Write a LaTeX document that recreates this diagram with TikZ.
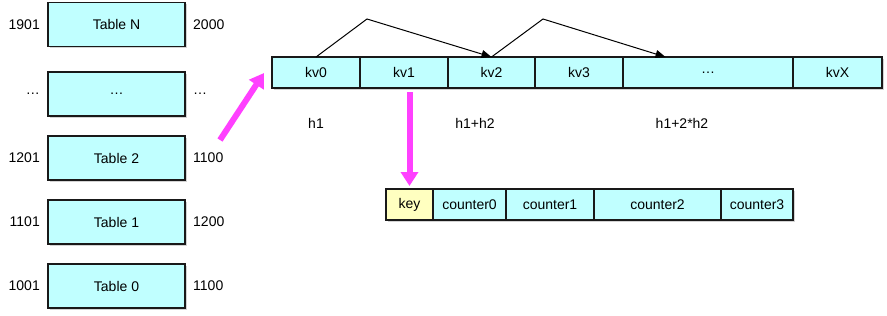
\documentclass[tikz,border=0pt]{standalone}
\usepackage{fontspec}
\setmainfont{Liberation Sans}
\usetikzlibrary{positioning,shadows,arrows.meta,calc}
\definecolor{cellcyan}{HTML}{C0FFFF}
\definecolor{cellyellow}{HTML}{FFFFC0}
\definecolor{ptrpink}{HTML}{FF40FF}
\tikzset{
  cell/.style={draw=black!90, line width=1.3pt, fill=cellcyan, minimum height=31pt,
    inner sep=0pt, outer sep=0pt,
    drop shadow={shadow xshift=1.5pt, shadow yshift=-1.5pt, opacity=0.35}},
  tbl/.style={cell, minimum width=137pt, minimum height=44pt},
  txt/.style={inner sep=1pt},
  hop/.style={draw, line width=1pt, -{Triangle[length=10pt,width=8pt]}},
  ptr/.style={draw=ptrpink, line width=6pt, -{Triangle[length=14pt,width=17pt]}},
}
\begin{document}
\begin{tikzpicture}[x=1pt, y=-1pt, font=\fontsize{14}{17}\selectfont]
\useasboundingbox (0,0) rectangle (887,316);
% tables
\node[tbl] (tabN) at (116.5,24.5) {Table N};
\node[tbl] (tabdots) at (116.5,94) {…};
\node[tbl] (tab2) at (116.5,158) {Table 2};
\node[tbl] (tab1) at (116.5,222) {Table 1};
\node[tbl] (tab0) at (116.5,286) {Table 0};
\node[txt, left=7pt of tabN] (loN) {1901};
\node[txt, right=7pt of tabN] (hiN) {2000};
\node[txt, left=7pt of tabdots] (lodots) {…};
\node[txt, right=7pt of tabdots] (hidots) {…};
\node[txt, left=7pt of tab2] (lo2) {1201};
\node[txt, right=7pt of tab2] (hi2) {1100};
\node[txt, left=7pt of tab1] (lo1) {1101};
\node[txt, right=7pt of tab1] (hi1) {1200};
\node[txt, left=7pt of tab0] (lo0) {1001};
\node[txt, right=7pt of tab0] (hi0) {1100};
% kv slots
\node[cell, minimum width=88pt] (kv0) at (316,72.5) {kv0};
\node[cell, minimum width=88pt, right=0pt of kv0] (kv1) {kv1};
\node[cell, minimum width=87pt, right=0pt of kv1] (kv2) {kv2};
\node[cell, minimum width=88pt, right=0pt of kv2] (kv3) {kv3};
\node[cell, minimum width=170pt, right=0pt of kv3] (kvdots) {…};
\node[cell, minimum width=89pt, right=0pt of kvdots] (kvX) {kvX};
\node (h1) at (316,123) {h1};
\node (h2) at (475,123) {h1+h2};
\node (h3) at (682,123) {h1+2*h2};
% probing
\coordinate (peak1) at (367,19);
\coordinate (peak2) at (543,19);
\draw[hop] (kv0.north) -- (peak1) -- (kv2.north);
\draw[hop] (kv2.north) -- (peak2) -- ($(kvdots.north west)!0.25!(kvdots.north east)$);
% entry
\node[cell, fill=cellyellow, minimum width=47pt] (key) at (409.5,204.5) {key};
\node[cell, minimum width=73pt, right=0pt of key] (cnt0) {counter0};
\node[cell, minimum width=88pt, right=0pt of cnt0] (cnt1) {counter1};
\node[cell, minimum width=127pt, right=0pt of cnt1] (cnt2) {counter2};
\node[cell, minimum width=72pt, right=0pt of cnt2] (cnt3) {counter3};
% pointers
\coordinate (ptrtail) at (220,140);
\coordinate (ptrtip) at (264,73);
\draw[ptr] (ptrtail) -- (ptrtip);
\draw[ptr, shorten <=4pt, shorten >=3pt] (kv1.south -| key.north) -- (key.north);
\end{tikzpicture}
\end{document}
